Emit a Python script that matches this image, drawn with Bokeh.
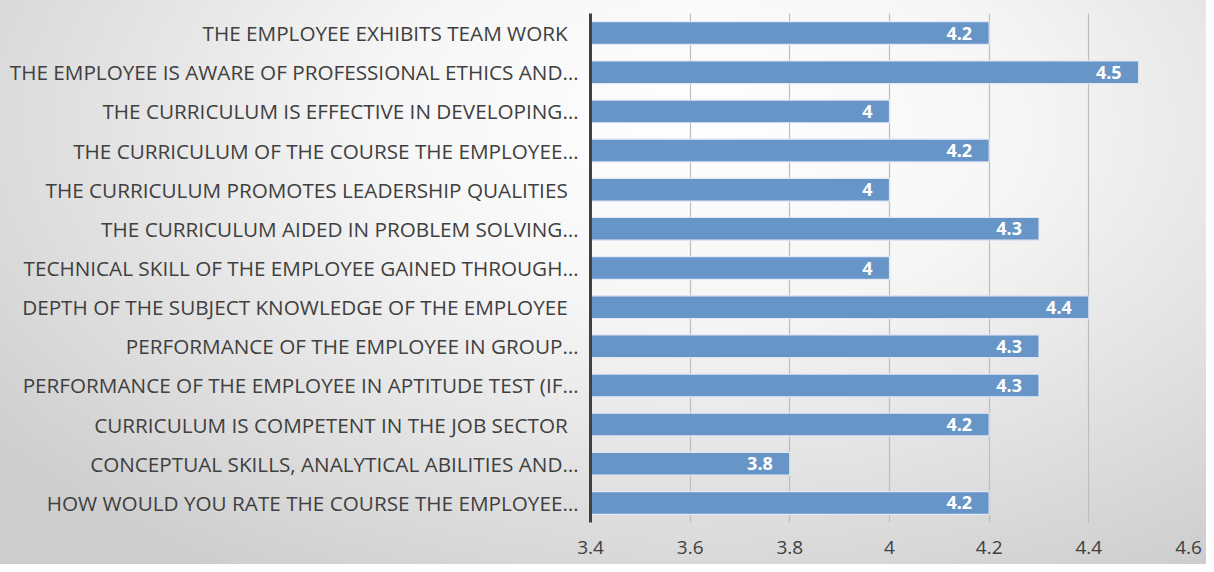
from bokeh.plotting import figure
from bokeh.models import ColumnDataSource, FactorRange, Range1d, FixedTicker, LabelSet
from bokeh.embed import file_html
from bokeh.resources import INLINE
from bokeh.core.properties import value

NB = "\u00a0\u00a0"
categories = [
    "THE EMPLOYEE EXHIBITS TEAM WORK" + NB,
    "THE EMPLOYEE IS AWARE OF PROFESSIONAL ETHICS AND…",
    "THE CURRICULUM IS EFFECTIVE IN DEVELOPING…",
    "THE CURRICULUM OF THE COURSE THE EMPLOYEE…",
    "THE CURRICULUM PROMOTES LEADERSHIP QUALITIES" + NB,
    "THE CURRICULUM AIDED IN PROBLEM SOLVING…",
    "TECHNICAL SKILL OF THE EMPLOYEE GAINED THROUGH…",
    "DEPTH OF THE SUBJECT KNOWLEDGE OF THE EMPLOYEE" + NB,
    "PERFORMANCE OF THE EMPLOYEE IN GROUP…",
    "PERFORMANCE OF THE EMPLOYEE IN APTITUDE TEST (IF…",
    "CURRICULUM IS COMPETENT IN THE JOB SECTOR" + NB,
    "CONCEPTUAL SKILLS, ANALYTICAL ABILITIES AND…",
    "HOW WOULD YOU RATE THE COURSE THE EMPLOYEE…",
]
scores = [4.2, 4.5, 4.0, 4.2, 4.0, 4.3, 4.0, 4.4, 4.3, 4.3, 4.2, 3.8, 4.2]
x_ticks = [3.4, 3.6, 3.8, 4.0, 4.2, 4.4, 4.6]
x_tick_labels = ["3.4", "3.6", "3.8", "4", "4.2", "4.4", "4.6"]

src = ColumnDataSource(dict(
    cat=categories,
    val=scores,
    base=[3.4] * len(scores),
    lab=[f"{v:g}" for v in scores],
))

p = figure(
    width=1206, height=564,
    y_range=FactorRange(*reversed(categories)),
    x_range=Range1d(3.4, 4.6),
    output_backend="svg", toolbar_location=None,
    min_border_left=590, min_border_right=18,
    min_border_top=13, min_border_bottom=42,
)
p.styles = {"background-image": "radial-gradient(ellipse 75% 95% at 58% 22%, #ffffff 0%, #f6f6f6 35%, #cdcdcd 100%)"}
p.background_fill_color = None
p.border_fill_color = None
p.outline_line_color = None

p.hbar(y="cat", left="base", right="val", height=0.58, source=src,
       fill_color="#6895c8", line_color="#dfe8f3", line_width=1.2)

labels = LabelSet(x="val", y="cat", text="lab", source=src,
                  x_offset=-17, y_offset=0, text_align="right", text_baseline="middle",
                  text_color="white", text_font_style="bold", text_font_size="18px",
                  text_font=value("Open Sans"))
p.add_layout(labels)

p.xaxis.ticker = FixedTicker(ticks=x_ticks)
p.xaxis.major_label_overrides = {t: l for t, l in zip(x_ticks, x_tick_labels)}
p.xaxis.axis_line_color = None
p.xaxis.major_tick_line_color = None
p.xaxis.minor_tick_line_color = None
p.xaxis.major_label_standoff = 12
p.xaxis.major_label_text_font = "Open Sans"
p.xaxis.major_label_text_font_size = "19px"
p.xaxis.major_label_text_color = "#404040"

p.yaxis.axis_line_color = "#404040"
p.yaxis.axis_line_width = 3
p.yaxis.major_tick_line_color = None
p.yaxis.minor_tick_line_color = None
p.yaxis.major_label_standoff = 6
p.yaxis.major_label_text_font = "Open Sans"
p.yaxis.major_label_text_font_size = "20.7px"
p.yaxis.major_label_text_color = "#404040"

p.ygrid.grid_line_color = None
p.xgrid.ticker = FixedTicker(ticks=x_ticks[1:])
p.xgrid.grid_line_color = "#bdbdbd"
p.xgrid.grid_line_width = 1.2

open("out.html", "w").write(file_html(p, INLINE))
